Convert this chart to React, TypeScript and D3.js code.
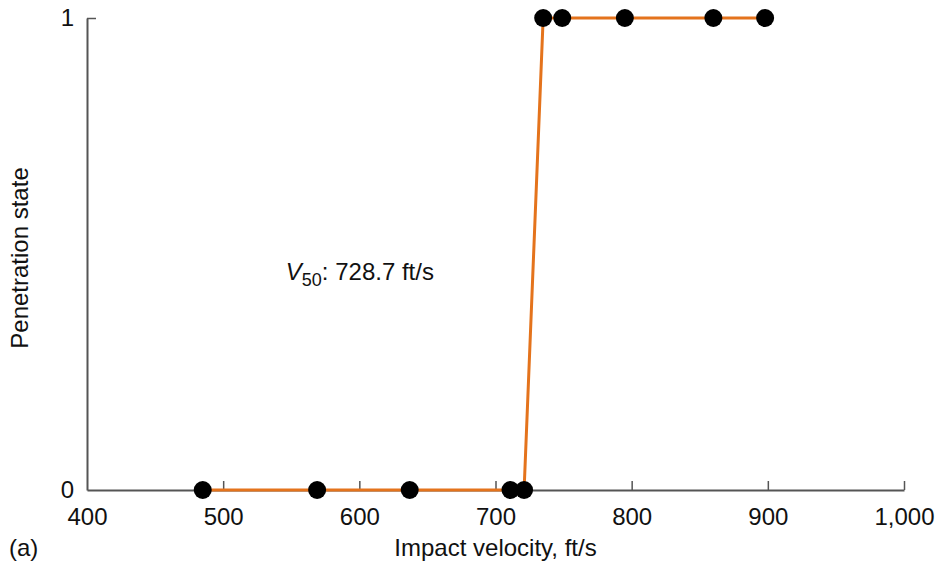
import React, { useEffect, useRef } from 'react';
import * as d3 from 'd3';

// impact velocities (ft/s) and penetration outcome (0 = no, 1 = yes)
const velocities = [485, 569, 637, 711, 721, 735, 749, 795, 860, 898];
const states = [0, 0, 0, 0, 0, 1, 1, 1, 1, 1];
const xTicks = [400, 500, 600, 700, 800, 900, 1000];
const yTicks = [0, 1];
const v50Label = '728.7 ft/s';

const width = 940;
const height = 563;
const margin = { top: 18, right: 36, bottom: 73, left: 87 };

const App = () => {
  const svgRef = useRef<SVGSVGElement>(null);

  useEffect(() => {
    const svg = d3.select(svgRef.current);
    svg.selectAll('*').remove();

    const chartWidth = width - margin.left - margin.right;
    const chartHeight = height - margin.top - margin.bottom;
    const font = 'Liberation Sans, Arial, sans-serif';
    const fontSize = 24;
    const axisColor = '#555';

    const g = svg.append('g')
      .attr('transform', `translate(${margin.left}, ${margin.top})`);

    const x = d3.scaleLinear().domain([400, 1000]).range([0, chartWidth]);
    const y = d3.scaleLinear().domain([0, 1]).range([chartHeight, 0]);

    // x axis
    const xAxis = g.append('g')
      .attr('transform', `translate(0, ${chartHeight})`)
      .call(d3.axisBottom(x).tickValues(xTicks).tickSizeInner(-9).tickSizeOuter(0)
        .tickFormat(d => d3.format(',')(d as number)));
    xAxis.select('.domain').attr('stroke', axisColor).attr('stroke-width', 2);
    xAxis.selectAll('.tick line').attr('stroke', axisColor).attr('stroke-width', 1.5);
    xAxis.selectAll('.tick').filter(d => d === 400).select('line').remove();
    xAxis.selectAll('.tick text')
      .attr('y', 18)
      .attr('font-family', font)
      .attr('font-size', fontSize)
      .attr('fill', '#111');

    // y axis
    const yAxis = g.append('g')
      .call(d3.axisLeft(y).tickValues(yTicks).tickSizeInner(-9).tickSizeOuter(0)
        .tickFormat(d3.format('d')));
    yAxis.select('.domain').attr('stroke', axisColor).attr('stroke-width', 2);
    yAxis.selectAll('.tick line').attr('stroke', axisColor).attr('stroke-width', 1.5);
    yAxis.selectAll('.tick').filter(d => d === 0).select('line').remove();
    yAxis.selectAll('.tick text')
      .attr('x', -13)
      .attr('font-family', font)
      .attr('font-size', fontSize)
      .attr('fill', '#111');

    // step line
    const pts = velocities.map((v, i) => [v, states[i]] as [number, number]);
    g.append('path')
      .datum(pts)
      .attr('fill', 'none')
      .attr('stroke', '#E4731C')
      .attr('stroke-width', 3)
      .attr('d', d3.line<[number, number]>().x(d => x(d[0])).y(d => y(d[1])));

    g.selectAll('circle')
      .data(pts)
      .enter()
      .append('circle')
      .attr('cx', d => x(d[0]))
      .attr('cy', d => y(d[1]))
      .attr('r', 9)
      .attr('fill', '#000');

    // V50 annotation
    const ann = g.append('text')
      .attr('x', x(546))
      .attr('y', y(0.445))
      .attr('font-family', font)
      .attr('font-size', fontSize)
      .attr('fill', '#111');
    ann.append('tspan').attr('font-style', 'italic').text('V');
    ann.append('tspan').attr('font-size', 18).attr('dy', 6).text('50');
    ann.append('tspan').attr('dy', -6).text(`: ${v50Label}`);

    // axis titles
    svg.append('text')
      .attr('x', margin.left + chartWidth / 2)
      .attr('y', 556)
      .attr('text-anchor', 'middle')
      .attr('font-family', font)
      .attr('font-size', fontSize)
      .attr('fill', '#111')
      .text('Impact velocity, ft/s');

    svg.append('text')
      .attr('transform', `translate(28, ${margin.top + chartHeight / 2 + 4}) rotate(-90)`)
      .attr('text-anchor', 'middle')
      .attr('font-family', font)
      .attr('font-size', fontSize)
      .attr('fill', '#111')
      .text('Penetration state');

    svg.append('text')
      .attr('x', 9)
      .attr('y', 556)
      .attr('font-family', font)
      .attr('font-size', fontSize)
      .attr('fill', '#111')
      .text('(a)');
  }, []);

  return (
    <svg ref={svgRef} width={width} height={height}
      style={{ position: 'absolute', left: 0, top: 0, background: '#fff' }} />
  );
};

export default App;
